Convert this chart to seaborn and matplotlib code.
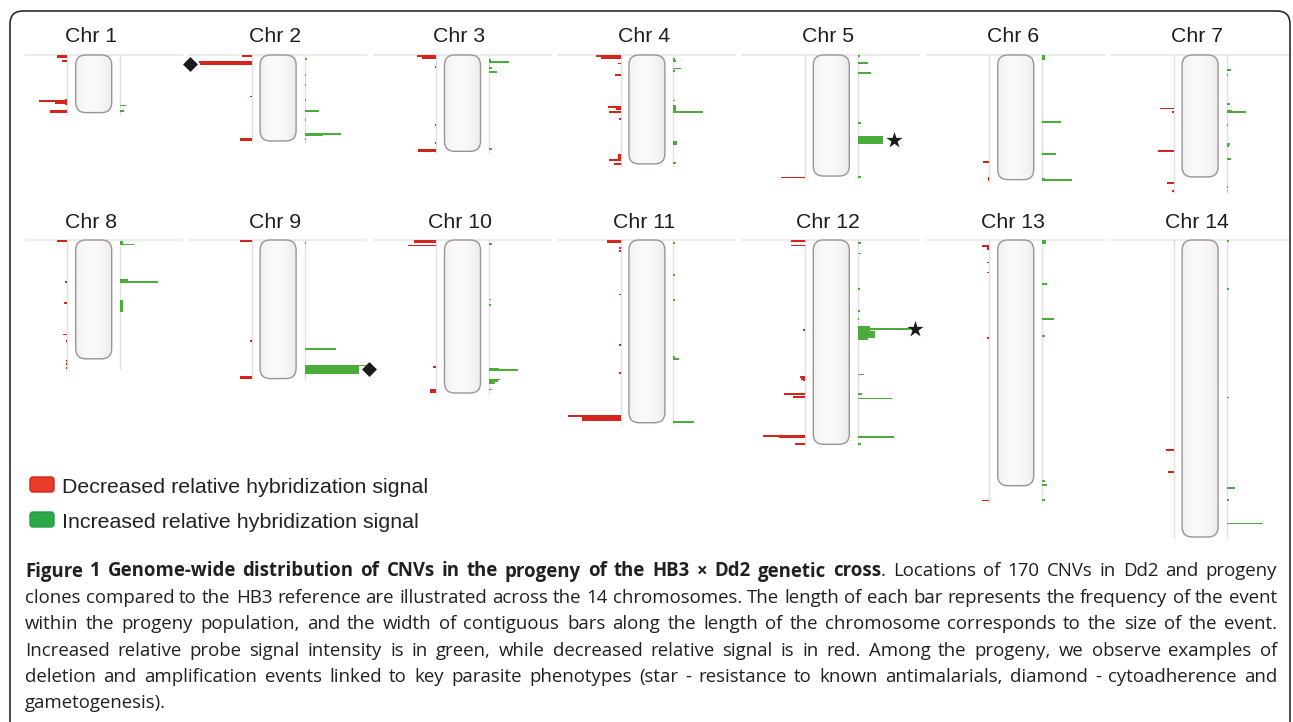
import numpy as np
import matplotlib
matplotlib.use('Agg')
import matplotlib.pyplot as plt
from matplotlib.patches import FancyBboxPatch
import seaborn as sns

# chromosome names and lengths (Mb, as drawn)
chrom_names = ['Chr %d' % i for i in range(1, 15)]
chrom_length_mb = [0.64, 0.955, 1.07, 1.21, 1.345, 1.385, 1.355,
                   1.32, 1.54, 1.70, 2.03, 2.27, 2.73, 3.30]

# CNV events: (start Mb, size Mb, number of progeny carrying it)
loss_chr1 = [(0.0, 0.03, 5), (0.055, 0.015, 2.5), (0.49, 0.07, 1), (0.50, 0.015, 14),
             (0.515, 0.03, 6), (0.615, 0.03, 8.7)]
gain_chr1 = [(0.55, 0.015, 3), (0.615, 0.015, 1.7)]
loss_chr2 = [(0.0, 0.02, 5), (0.065, 0.015, 26.5), (0.07, 0.045, 26), (0.45, 0.015, 0.8),
             (0.925, 0.03, 6)]
gain_chr2 = [(0.03, 0.015, 1), (0.21, 0.015, 0.8), (0.325, 0.015, 0.8), (0.49, 0.015, 0.8),
             (0.615, 0.015, 7), (0.715, 0.015, 0.8), (0.87, 0.015, 18), (0.865, 0.03, 9),
             (0.925, 0.015, 0.8)]
loss_chr3 = [(0.0, 0.02, 9.5), (0.02, 0.025, 7), (0.12, 0.015, 0.8), (0.765, 0.015, 0.8),
             (0.965, 0.015, 0.8), (1.045, 0.035, 9)]
gain_chr3 = [(0.045, 0.015, 0.8), (0.07, 0.015, 10), (0.13, 0.015, 1.5), (0.175, 0.025, 4),
             (1.03, 0.025, 1.5)]
loss_chr4 = [(0.0, 0.025, 12.5), (0.025, 0.015, 10), (0.085, 0.015, 1.5), (0.21, 0.015, 3),
             (0.57, 0.015, 6.5), (0.59, 0.015, 2.5), (0.62, 0.015, 6), (0.70, 0.015, 0.8),
             (1.105, 0.065, 1.2), (1.16, 0.015, 6), (1.205, 0.02, 3.5)]
gain_chr4 = [(0.03, 0.015, 1), (0.06, 0.015, 1.5), (0.14, 0.015, 4), (0.17, 0.015, 1),
             (0.495, 0.015, 0.8), (0.56, 0.065, 1.2), (0.625, 0.015, 15), (0.96, 0.04, 2),
             (1.19, 0.015, 1.5)]
loss_chr5 = [(1.35, 0.015, 12)]
gain_chr5 = [(0.0, 0.02, 1), (0.075, 0.025, 1.5), (0.08, 0.015, 5), (0.19, 0.015, 6.5),
             (0.745, 0.015, 1.5), (0.905, 0.085, 12.5), (1.345, 0.015, 1.5)]
loss_chr6 = [(1.18, 0.015, 3), (1.36, 0.04, 0.8)]
gain_chr6 = [(0.0, 0.06, 1.2), (0.735, 0.015, 9.5), (1.09, 0.015, 7), (1.365, 0.03, 1.5),
             (1.375, 0.015, 15)]
loss_chr7 = [(0.585, 0.015, 7), (0.62, 0.015, 0.8), (1.055, 0.015, 8), (1.41, 0.015, 3.5),
             (1.505, 0.015, 1)]
gain_chr7 = [(0.155, 0.015, 2), (0.21, 0.015, 0.8), (0.53, 0.015, 1.5), (0.615, 0.025, 2.5),
             (0.625, 0.015, 9.5), (0.765, 0.015, 0.8), (0.975, 0.015, 1.5), (1.005, 0.015, 1),
             (1.145, 0.015, 2), (1.46, 0.015, 0.8), (1.495, 0.015, 0.8)]
loss_chr8 = [(0.0, 0.025, 5), (0.455, 0.015, 1), (0.69, 0.015, 1.7), (1.04, 0.015, 2),
             (1.115, 0.015, 0.8), (1.33, 0.015, 0.8), (1.365, 0.015, 0.8), (1.41, 0.015, 0.8)]
gain_chr8 = [(0.01, 0.035, 1.5), (0.04, 0.015, 7), (0.43, 0.025, 4), (0.455, 0.015, 19),
             (0.67, 0.13, 1.5)]
loss_chr9 = [(0.0, 0.025, 6), (1.115, 0.015, 0.8), (1.51, 0.035, 6)]
gain_chr9 = [(0.02, 0.015, 0.8), (1.205, 0.015, 15.5), (1.385, 0.015, 30.5), (1.395, 0.095, 27)]
loss_chr10 = [(0.0, 0.03, 11), (0.05, 0.02, 14), (1.40, 0.015, 1.7), (1.65, 0.045, 3.3)]
gain_chr10 = [(0.03, 0.015, 1.5), (0.65, 0.015, 1), (0.71, 0.015, 1), (1.425, 0.025, 5),
              (1.43, 0.015, 14.5), (1.54, 0.02, 5.5), (1.56, 0.02, 4.5), (1.58, 0.015, 3),
              (1.65, 0.015, 1.5)]
loss_chr11 = [(0.0, 0.03, 7), (0.08, 0.015, 0.8), (0.115, 0.015, 0.8), (0.595, 0.015, 0.8),
              (1.16, 0.015, 0.8), (1.465, 0.015, 0.8), (1.94, 0.075, 19.5), (1.945, 0.015, 26.5)]
gain_chr11 = [(0.02, 0.02, 1), (0.375, 0.015, 0.8), (0.66, 0.015, 0.8), (1.29, 0.02, 1),
              (1.31, 0.015, 3), (2.01, 0.025, 2), (2.015, 0.015, 10.3)]
loss_chr12 = [(0.0, 0.025, 7), (0.05, 0.02, 7), (0.99, 0.015, 1), (1.51, 0.015, 2.5),
              (1.535, 0.015, 2), (1.55, 0.015, 1), (1.70, 0.015, 10.5), (1.735, 0.015, 6),
              (2.17, 0.015, 21), (2.18, 0.025, 13), (2.255, 0.02, 5)]
gain_chr12 = [(0.02, 0.02, 1.7), (0.14, 0.015, 1.5), (0.535, 0.015, 1), (0.775, 0.015, 1),
              (0.865, 0.015, 0.8), (0.95, 0.065, 6), (0.98, 0.015, 26), (1.015, 0.075, 8.5),
              (1.09, 0.025, 5), (1.485, 0.02, 3.3), (1.70, 0.02, 2), (1.75, 0.015, 17),
              (2.175, 0.025, 7.5), (2.18, 0.015, 18), (2.255, 0.015, 1.5)]
loss_chr13 = [(0.055, 0.015, 3.5), (0.06, 0.05, 1), (0.24, 0.015, 1), (0.35, 0.015, 1),
              (1.08, 0.015, 1), (2.885, 0.02, 3.5)]
gain_chr13 = [(0.0, 0.045, 1.7), (0.48, 0.015, 2.5), (0.865, 0.02, 6), (1.06, 0.015, 1.5),
              (2.665, 0.015, 1.5), (2.71, 0.015, 2.5), (2.875, 0.015, 1.5)]
loss_chr14 = [(2.325, 0.015, 4), (2.57, 0.015, 3)]
gain_chr14 = [(0.0, 0.015, 1), (0.535, 0.015, 1), (1.74, 0.015, 1), (2.745, 0.015, 4),
              (2.875, 0.015, 1), (3.14, 0.015, 18)]

loss_events = [loss_chr1, loss_chr2, loss_chr3, loss_chr4, loss_chr5, loss_chr6, loss_chr7,
               loss_chr8, loss_chr9, loss_chr10, loss_chr11, loss_chr12, loss_chr13, loss_chr14]
gain_events = [gain_chr1, gain_chr2, gain_chr3, gain_chr4, gain_chr5, gain_chr6, gain_chr7,
               gain_chr8, gain_chr9, gain_chr10, gain_chr11, gain_chr12, gain_chr13, gain_chr14]

# phenotype markers (diamond - cytoadherence/gametogenesis, star - drug resistance)
marker_chrom = [2, 9, 5, 12]
marker_side = ['loss', 'gain', 'gain', 'gain']
marker_pos_mb = [0.095, 1.43, 0.9475, 0.9875]
marker_shape = ['D', 'D', '*', '*']

legend_labels = ['Decreased relative hybridization signal', 'Increased relative hybridization signal']

caption = [
    [('Figure 1 Genome-wide distribution of CNVs in the progeny of the HB3 \u00d7 Dd2 genetic cross', True),
     ('. Locations of 170 CNVs in Dd2 and progeny', False)],
    [('clones compared to the HB3 reference are illustrated across the 14 chromosomes. The length of each bar represents the frequency of the event', False)],
    [('within the progeny population, and the width of contiguous bars along the length of the chromosome corresponds to the size of the event.', False)],
    [('Increased relative probe signal intensity is in green, while decreased relative signal is in red. Among the progeny, we observe examples of', False)],
    [('deletion and amplification events linked to key parasite phenotypes (star - resistance to known antimalarials, diamond - cytoadherence and', False)],
    [('gametogenesis).', False)],
]

RED = '#d5241c'
GREEN = '#4aad3a'

sns.set_style('white')
plt.rcParams['font.family'] = ['Liberation Sans', 'DejaVu Sans']

W, H = 1293, 722
fig = plt.figure(figsize=(W / 100, H / 100), dpi=100)
bg = fig.add_axes([0, 0, 1, 1])
bg.set_xlim(0, W)
bg.set_ylim(H, 0)
bg.axis('off')

# frame
bg.add_patch(FancyBboxPatch((10, 11), 1280, 760, boxstyle='round,pad=0,rounding_size=13',
                            fc='white', ec='#2b2b2b', lw=1.2))

PX_MB = 90.0      # pixels per Mb
PX_N = 2.0        # pixels per progeny
GAP = 13.2        # half distance between the two baselines (progeny units)
HALF_W = 9.0      # half width of the chromosome drawing
MIN_H = 0.02      # thinnest drawn bar (Mb)
col_centers = [93.7 + 184.4 * c for c in range(7)]
row_tops = [55, 240]

axes = []
for i, name in enumerate(chrom_names):
    r, c = divmod(i, 7)
    cx, top = col_centers[c], row_tops[r]
    lpx, rpx = max(cx - 90, 25), cx + 89
    atop, abot = top - 12, top + 325
    ax = fig.add_axes([lpx / W, 1 - abot / H, (rpx - lpx) / W, (abot - atop) / H])
    ax.axis('off')
    xlim = (-(cx - lpx) / PX_N, (rpx - cx) / PX_N)
    ylim = ((abot - top) / PX_MB, (atop - top) / PX_MB)

    L = chrom_length_mb[i]
    ends = [s + z for s, z, f in loss_events[i] + gain_events[i]]
    ext = max([L] + ends) + 0.01
    ax.plot(xlim, [0, 0], color='#e6e6e6', lw=1.1, zorder=0)
    for sx in (-GAP, GAP):
        ax.plot([sx, sx], [0, ext], color='#e0e0e0', lw=1.0, zorder=0)

    for s, z, f in loss_events[i]:
        ax.barh(s, -f, left=-GAP, height=max(z, MIN_H), align='edge', color=RED, lw=0, zorder=2)
    for s, z, f in gain_events[i]:
        ax.barh(s, f, left=GAP, height=max(z, MIN_H), align='edge', color=GREEN, lw=0, zorder=2)

    chrom = FancyBboxPatch((-HALF_W, 0), 2 * HALF_W, L,
                           boxstyle='round,pad=0,rounding_size=5',
                           mutation_aspect=PX_N / PX_MB,
                           fc='none', ec='#9d9294', lw=1.0, zorder=4)
    ax.add_patch(chrom)
    t = np.linspace(0, 1, 60)
    shade = 0.915 + 0.065 * np.sin(np.pi * (0.15 + 0.8 * t))
    img = np.stack([shade] * 3, axis=-1)[None, :, :]
    im = ax.imshow(img, extent=[-HALF_W, HALF_W, L, 0], aspect='auto', zorder=3,
                   interpolation='bilinear')
    im.set_clip_path(chrom)

    ax.set_xlim(*xlim)
    ax.set_ylim(*ylim)
    axes.append(ax)

    bg.text(cx - 3, top - 12.5, name, ha='center', va='baseline', fontsize=15.3, color='#1e1e1e')

marker_gap = [4.5, 5.3, 5.5, 2.5]
marker_area = [58, 58, 150, 150]
for chrom, side, pos, shape, gap, area in zip(marker_chrom, marker_side, marker_pos_mb,
                                               marker_shape, marker_gap, marker_area):
    ax = axes[chrom - 1]
    events = loss_events[chrom - 1] if side == 'loss' else gain_events[chrom - 1]
    reach = max(f for s, z, f in events if s - 0.02 <= pos <= s + z + 0.02)
    x = GAP + reach + gap
    if side == 'loss':
        x = -x
    xl, yl = ax.get_xlim(), ax.get_ylim()
    sns.scatterplot(x=[x], y=[pos], marker=shape, s=area, color='#1b1b1b', linewidth=0,
                    ax=ax, legend=False, zorder=6, clip_on=False)
    ax.set_xlim(xl)
    ax.set_ylim(yl)
    ax.axis('off')

# legend
leg_colors = [('#ea3d27', '#d42020'), ('#2aa84a', '#239e42')]
leg_y = [477, 512]
for (fc, ec), y, lab in zip(leg_colors, leg_y, legend_labels):
    bg.add_patch(FancyBboxPatch((30, y), 24, 15, boxstyle='round,pad=0,rounding_size=3',
                                fc=fc, ec=ec, lw=1.0))
    bg.text(62, y + 16, lab, fontsize=15.4, va='baseline', color='#222222')

# caption, justified between x0 and x1
CAP_FONT = 'Open Sans'
x0, x1 = 25, 1277
renderer = fig.canvas.get_renderer()


def measure(s, bold, size):
    t = bg.text(0, 0, s, fontsize=size, family=CAP_FONT, weight='bold' if bold else 'normal')
    w = t.get_window_extent(renderer).width
    t.remove()
    return w


def split_words(segments):
    words = []
    attach = False
    for text, bold in segments:
        for k, p in enumerate(text.split(' ')):
            if p:
                if k == 0 and attach:
                    words[-1].append((p, bold))
                else:
                    words.append([(p, bold)])
        attach = not text.endswith(' ')
    return words


lines = [split_words(seg) for seg in caption]
ref = 10.0
space_ref = measure('x x', False, ref) - measure('xx', False, ref)
widths_ref = [[[measure(p, b, ref) for p, b in w] for w in ln] for ln in lines]
natural = [sum(sum(w) for w in ln) + space_ref * (len(ln) - 1) for ln in widths_ref[:-1]]
size = ref * (x1 - x0) / max(natural) * 0.995
scale = size / ref

for k, (ln, wl) in enumerate(zip(lines, widths_ref)):
    yb = 576.5 + 26.4 * k
    total = sum(sum(w) for w in wl) * scale
    if k < len(lines) - 1 and len(ln) > 1:
        gap = ((x1 - x0) - total) / (len(ln) - 1)
    else:
        gap = space_ref * scale
    x = x0
    for word, pw in zip(ln, wl):
        for (p, b), w in zip(word, pw):
            bg.text(x, yb, p, fontsize=size, family=CAP_FONT, weight='bold' if b else 'normal',
                    va='baseline', ha='left', color='#231f20')
            x += w * scale
        x += gap

fig.savefig('out.png', dpi=100)
